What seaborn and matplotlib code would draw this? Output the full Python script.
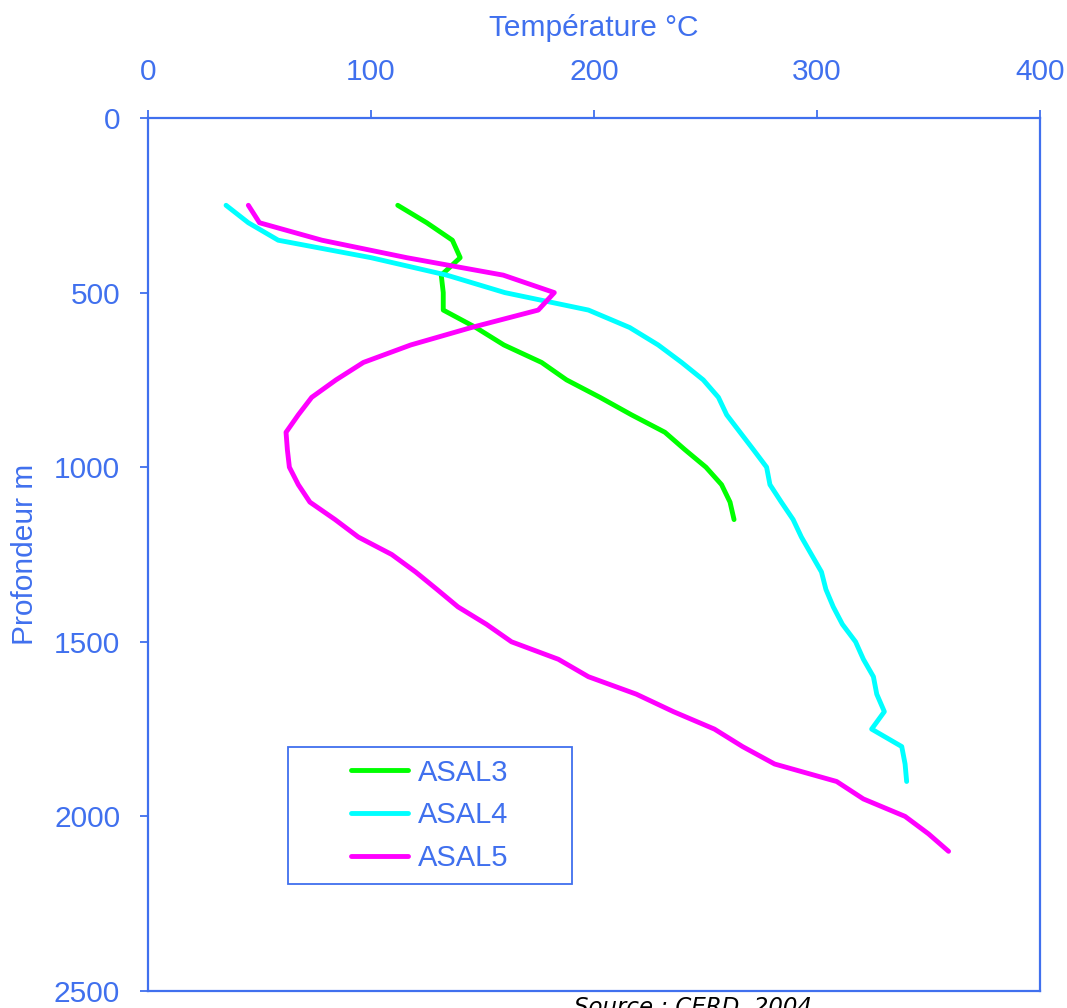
import numpy as np
import pandas as pd
import seaborn as sns
import matplotlib
matplotlib.use("Agg")
import matplotlib.pyplot as plt
from matplotlib.patches import Rectangle

# ---- data ----
wells = ["ASAL3", "ASAL4", "ASAL5"]

depth_asal3 = [250, 300, 350, 400, 450, 500, 550, 600, 650, 700, 750, 800,
               850, 900, 950, 1000, 1050, 1100, 1150]
temp_asal3 = [112, 125, 136.5, 140, 131.5, 132.4, 132.4, 147, 159.6, 176.5,
              187.7, 202.7, 216.8, 231.8, 240.8, 250.2, 257.2, 261, 262.8]

depth_asal4 = [250, 300, 350, 400, 450, 500, 550, 600, 650, 700, 750, 800,
               850, 900, 950, 1000, 1050, 1100, 1150, 1200, 1250, 1300, 1350,
               1400, 1450, 1500, 1550, 1600, 1650, 1700, 1750, 1800, 1850, 1900]
temp_asal4 = [35, 45, 58.4, 100, 134, 160, 197.5, 216, 228.8, 239.3, 249,
              255.8, 259.5, 265.5, 271.5, 277.4, 278.9, 284, 289.3, 293,
              297.5, 302, 304, 307.3, 311.4, 317.3, 320.8, 325.3, 326.8,
              330.2, 324.5, 338, 339.5, 340.2]

depth_asal5 = [250, 300, 350, 400, 450, 500, 550, 600, 650, 700, 750, 800,
               850, 900, 950, 1000, 1050, 1100, 1150, 1200, 1250, 1300, 1350,
               1400, 1450, 1500, 1550, 1600, 1650, 1700, 1750, 1800, 1850,
               1900, 1950, 2000, 2050, 2100]
temp_asal5 = [45, 50, 78, 116, 159.3, 182.2, 175, 145, 117.8, 96.6, 84.3,
              73.4, 67.4, 61.9, 62.5, 63.4, 67.4, 72.6, 83.9, 94.3, 109.3,
              120, 129.6, 139, 151.8, 163, 184, 197.5, 219, 235.6, 254, 266.6,
              281, 308.8, 320.8, 339.5, 350, 359]

x_ticks = [0, 100, 200, 300, 400]
y_ticks = [0, 500, 1000, 1500, 2000, 2500]

# ---- long-form table ----
frames = []
for name, d, t in zip(wells, [depth_asal3, depth_asal4, depth_asal5],
                      [temp_asal3, temp_asal4, temp_asal5]):
    frames.append(pd.DataFrame({"well": name, "depth": d, "temp": t}))
df = pd.concat(frames, ignore_index=True)

BLUE = "#4070ee"
palette = {"ASAL3": "#00ff00", "ASAL4": "#00ffff", "ASAL5": "#ff00ff"}

sns.set_theme(style="white")
plt.rcParams["font.family"] = ["Liberation Sans", "DejaVu Sans"]

fig = plt.figure(figsize=(10.67, 10.08), dpi=100)
ax = fig.add_axes([148 / 1067, 1 - 991 / 1008, (1040 - 148) / 1067, (991 - 118) / 1008])

sns.lineplot(data=df, x="temp", y="depth", hue="well", palette=palette,
             sort=False, estimator=None, linewidth=3.5, ax=ax, legend=True)

ax.set_xlim(0, 400)
ax.set_ylim(2500, 0)
ax.set_xticks(x_ticks)
ax.set_yticks(y_ticks)
ax.xaxis.tick_top()
ax.xaxis.set_label_position("top")

ax.set_xlabel("Température °C", color=BLUE, fontsize=21.5, labelpad=16)
ax.set_ylabel("Profondeur m", color=BLUE, fontsize=21.5, labelpad=11)

ax.tick_params(axis="x", colors=BLUE, labelsize=21.5, length=6, width=1.3,
               direction="out", pad=17, top=True, bottom=False)
ax.tick_params(axis="y", colors=BLUE, labelsize=21.5, length=6, width=1.3,
               direction="out", pad=14, left=True)
for sp in ax.spines.values():
    sp.set_color(BLUE)
    sp.set_linewidth(1.6)
    sp.set_visible(True)

# legend: frame drawn as a rectangle in axes coordinates
x0 = (288 - 148) / 892
y0 = (991 - 884) / 873
w = (572 - 288) / 892
h = (884 - 747) / 873
ax.add_patch(Rectangle((x0, y0), w, h, transform=ax.transAxes, fill=False,
                       edgecolor=BLUE, linewidth=1.3, zorder=5))
leg = ax.legend(loc="center", bbox_to_anchor=(x0 + w / 2, y0 + h / 2),
                frameon=False, fontsize=21, handlelength=1.95,
                handletextpad=0.35, labelspacing=0.51, borderpad=0)
for txt in leg.get_texts():
    txt.set_color(BLUE)
for line in leg.get_lines():
    line.set_linewidth(3.5)

fig.text(693 / 1067, 1 - 996 / 1008, "Source : CERD, 2004", fontsize=16.5,
         style="italic", color="black", ha="center", va="top",
         family="DejaVu Sans")

fig.savefig("out.png", dpi=100)
